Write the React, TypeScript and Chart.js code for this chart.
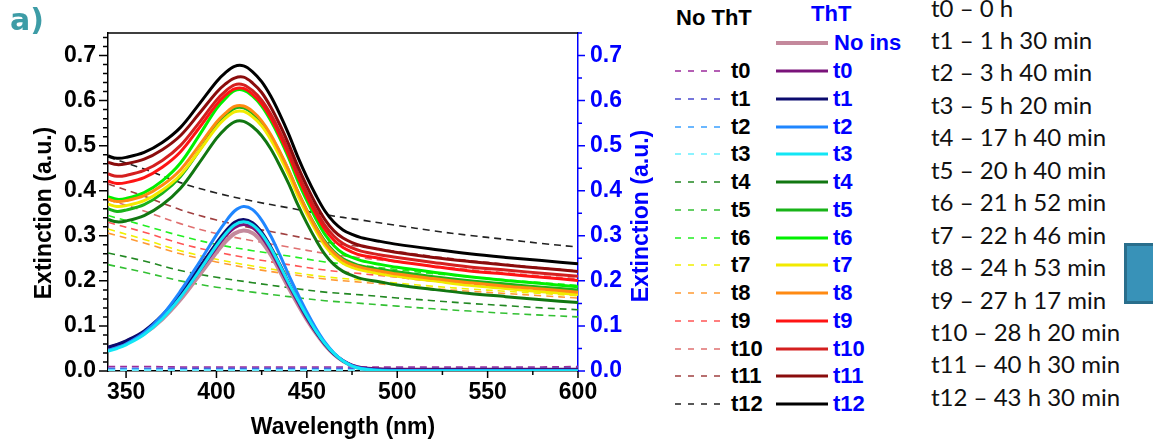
import React, { useEffect, useRef } from 'react';
import { Chart, registerables } from 'chart.js';

Chart.register(...registerables);

// ---------------- DATA ----------------
const wlSolid = [340, 345, 350, 360, 370, 380, 390, 400, 405, 410, 415, 420, 425, 430, 435, 440, 445, 450, 455, 460, 465, 470, 475, 480, 490, 500, 520, 540, 560, 580, 600];
const wlDashed = [340, 360, 380, 400, 420, 440, 460, 480, 500, 520, 540, 560, 580, 600];

// ThT (solid lines)
const thtNoIns = [0.048, 0.054, 0.062, 0.083, 0.115, 0.158, 0.210, 0.263, 0.287, 0.305, 0.312, 0.306, 0.287, 0.258, 0.222, 0.184, 0.148, 0.114, 0.084, 0.058, 0.037, 0.022, 0.012, 0.006, 0.003, 0.002, 0.002, 0.002, 0.002, 0.002, 0.002];
const thtT0 = [0.052, 0.058, 0.066, 0.087, 0.120, 0.165, 0.219, 0.274, 0.299, 0.318, 0.325, 0.318, 0.298, 0.267, 0.229, 0.190, 0.153, 0.117, 0.086, 0.059, 0.038, 0.023, 0.013, 0.008, 0.005, 0.004, 0.004, 0.004, 0.004, 0.004, 0.004];
const thtT1 = [0.053, 0.059, 0.067, 0.089, 0.124, 0.171, 0.227, 0.284, 0.310, 0.330, 0.336, 0.329, 0.308, 0.276, 0.237, 0.196, 0.158, 0.121, 0.088, 0.060, 0.038, 0.022, 0.012, 0.006, 0.003, 0.002, 0.002, 0.002, 0.002, 0.002, 0.002];
const thtT2 = [0.046, 0.052, 0.060, 0.085, 0.124, 0.177, 0.238, 0.302, 0.331, 0.355, 0.365, 0.358, 0.335, 0.300, 0.258, 0.213, 0.171, 0.131, 0.095, 0.064, 0.040, 0.023, 0.012, 0.006, 0.002, 0.001, 0.001, 0.001, 0.001, 0.001, 0.001];
const thtT3 = [0.044, 0.050, 0.058, 0.081, 0.116, 0.163, 0.219, 0.278, 0.304, 0.324, 0.331, 0.324, 0.304, 0.273, 0.235, 0.195, 0.158, 0.122, 0.089, 0.061, 0.039, 0.022, 0.011, 0.005, 0.001, 0.000, 0.000, 0.000, 0.000, 0.000, 0.000];
const thtT4 = [0.336, 0.331, 0.333, 0.345, 0.369, 0.405, 0.459, 0.516, 0.538, 0.553, 0.554, 0.542, 0.522, 0.493, 0.456, 0.415, 0.369, 0.328, 0.291, 0.259, 0.236, 0.221, 0.212, 0.205, 0.198, 0.191, 0.181, 0.172, 0.165, 0.158, 0.152];
const thtT5 = [0.360, 0.354, 0.357, 0.369, 0.394, 0.431, 0.486, 0.545, 0.567, 0.583, 0.584, 0.572, 0.552, 0.522, 0.485, 0.444, 0.398, 0.357, 0.320, 0.288, 0.265, 0.249, 0.240, 0.233, 0.226, 0.220, 0.209, 0.200, 0.193, 0.186, 0.180];
const thtT6 = [0.387, 0.381, 0.383, 0.396, 0.422, 0.461, 0.520, 0.582, 0.605, 0.622, 0.623, 0.610, 0.588, 0.556, 0.517, 0.472, 0.422, 0.378, 0.338, 0.303, 0.278, 0.261, 0.252, 0.245, 0.237, 0.230, 0.219, 0.209, 0.201, 0.194, 0.187];
const thtT7 = [0.370, 0.365, 0.367, 0.378, 0.401, 0.435, 0.486, 0.540, 0.561, 0.575, 0.576, 0.564, 0.544, 0.514, 0.477, 0.435, 0.389, 0.348, 0.311, 0.278, 0.255, 0.239, 0.230, 0.224, 0.216, 0.210, 0.200, 0.190, 0.183, 0.176, 0.170];
const thtT8 = [0.381, 0.376, 0.378, 0.389, 0.412, 0.446, 0.498, 0.552, 0.572, 0.587, 0.588, 0.576, 0.555, 0.525, 0.487, 0.445, 0.398, 0.356, 0.318, 0.285, 0.262, 0.246, 0.236, 0.230, 0.222, 0.215, 0.205, 0.196, 0.188, 0.182, 0.175];
const thtT9 = [0.421, 0.416, 0.418, 0.429, 0.452, 0.486, 0.537, 0.591, 0.612, 0.626, 0.627, 0.614, 0.593, 0.562, 0.523, 0.479, 0.431, 0.387, 0.348, 0.314, 0.290, 0.274, 0.264, 0.257, 0.250, 0.243, 0.232, 0.222, 0.215, 0.208, 0.201];
const thtT10 = [0.437, 0.432, 0.434, 0.445, 0.467, 0.500, 0.549, 0.601, 0.621, 0.635, 0.635, 0.622, 0.601, 0.570, 0.531, 0.488, 0.439, 0.396, 0.357, 0.323, 0.299, 0.283, 0.273, 0.266, 0.258, 0.252, 0.241, 0.231, 0.224, 0.217, 0.210];
const thtT11 = [0.463, 0.458, 0.460, 0.470, 0.491, 0.522, 0.569, 0.618, 0.637, 0.650, 0.652, 0.639, 0.618, 0.586, 0.547, 0.503, 0.454, 0.410, 0.370, 0.336, 0.311, 0.295, 0.285, 0.278, 0.270, 0.263, 0.252, 0.243, 0.235, 0.228, 0.221];
const thtT12 = [0.477, 0.472, 0.474, 0.485, 0.507, 0.540, 0.590, 0.642, 0.662, 0.676, 0.677, 0.664, 0.642, 0.610, 0.570, 0.525, 0.475, 0.430, 0.390, 0.355, 0.330, 0.313, 0.303, 0.296, 0.288, 0.281, 0.270, 0.260, 0.252, 0.245, 0.238];

// No ThT (dashed lines)
const noThtT0 = [0.010, 0.010, 0.009, 0.009, 0.009, 0.009, 0.009, 0.009, 0.009, 0.009, 0.009, 0.009, 0.009, 0.010];
const noThtT1 = [0.006, 0.006, 0.006, 0.006, 0.006, 0.006, 0.006, 0.006, 0.006, 0.006, 0.006, 0.006, 0.006, 0.007];
const noThtT2 = [0.004, 0.004, 0.003, 0.003, 0.003, 0.003, 0.003, 0.003, 0.003, 0.003, 0.003, 0.003, 0.003, 0.003];
const noThtT3 = [0.002, 0.002, 0.002, 0.002, 0.002, 0.002, 0.002, 0.002, 0.002, 0.002, 0.002, 0.002, 0.002, 0.002];
const noThtT4 = [0.262, 0.244, 0.223, 0.208, 0.196, 0.185, 0.175, 0.169, 0.162, 0.156, 0.150, 0.145, 0.140, 0.136];
const noThtT5 = [0.236, 0.219, 0.200, 0.186, 0.175, 0.165, 0.156, 0.150, 0.144, 0.138, 0.133, 0.128, 0.124, 0.120];
const noThtT6 = [0.345, 0.323, 0.300, 0.281, 0.267, 0.255, 0.242, 0.234, 0.225, 0.216, 0.209, 0.202, 0.196, 0.190];
const noThtT7 = [0.315, 0.292, 0.267, 0.248, 0.233, 0.220, 0.209, 0.202, 0.195, 0.188, 0.182, 0.177, 0.172, 0.167];
const noThtT8 = [0.306, 0.284, 0.260, 0.242, 0.227, 0.215, 0.204, 0.197, 0.190, 0.183, 0.177, 0.172, 0.167, 0.162];
const noThtT9 = [0.330, 0.308, 0.283, 0.264, 0.249, 0.236, 0.224, 0.216, 0.208, 0.199, 0.193, 0.187, 0.180, 0.175];
const noThtT10 = [0.380, 0.355, 0.327, 0.305, 0.289, 0.275, 0.261, 0.251, 0.242, 0.233, 0.225, 0.218, 0.211, 0.205];
const noThtT11 = [0.415, 0.388, 0.358, 0.335, 0.317, 0.302, 0.286, 0.276, 0.265, 0.254, 0.245, 0.237, 0.229, 0.222];
const noThtT12 = [0.475, 0.448, 0.418, 0.395, 0.377, 0.362, 0.347, 0.335, 0.323, 0.311, 0.301, 0.292, 0.283, 0.275];

const thtLabels = ['No ins', 't0', 't1', 't2', 't3', 't4', 't5', 't6', 't7', 't8', 't9', 't10', 't11', 't12'];
const noThtLabels = ['t0', 't1', 't2', 't3', 't4', 't5', 't6', 't7', 't8', 't9', 't10', 't11', 't12'];
const timeLabels = [
  't0 – 0 h', 't1 – 1 h 30 min', 't2 – 3 h 40 min', 't3 – 5 h 20 min', 't4 – 17 h 40 min',
  't5 – 20 h 40 min', 't6 – 21 h 52 min', 't7 – 22 h 46 min', 't8 – 24 h 53 min', 't9 – 27 h 17 min',
  't10 – 28 h 20 min', 't11 – 40 h 30 min', 't12 – 43 h 30 min',
];

const xTicks = [350, 400, 450, 500, 550, 600];
const xMinorTicks = [375, 425, 475, 525, 575];
const yTicks = [0, 0.1, 0.2, 0.3, 0.4, 0.5, 0.6, 0.7];
const yLeftMinor = [0.02, 0.04, 0.06, 0.08, 0.12, 0.14, 0.16, 0.18, 0.22, 0.24, 0.26, 0.28, 0.32, 0.34, 0.36, 0.38, 0.42, 0.44, 0.46, 0.48, 0.52, 0.54, 0.56, 0.58, 0.62, 0.64, 0.66, 0.68, 0.72, 0.74];
const yRightMinor = [0.05, 0.15, 0.25, 0.35, 0.45, 0.55, 0.65, 0.75];

const thtSeries = [thtNoIns, thtT0, thtT1, thtT2, thtT3, thtT4, thtT5, thtT6, thtT7, thtT8, thtT9, thtT10, thtT11, thtT12];
const noThtSeries = [noThtT0, noThtT1, noThtT2, noThtT3, noThtT4, noThtT5, noThtT6, noThtT7, noThtT8, noThtT9, noThtT10, noThtT11, noThtT12];

const thtColors = ['#c4899c', '#7a137a', '#0b0b6e', '#1f86ff', '#12e6f5', '#117711', '#19b319', '#00f000', '#f2ea00', '#ff8a12', '#ff1414', '#d41f1f', '#8a0c0c', '#000000'];
const noThtColors = ['#9c2a9c', '#4a4ad0', '#3aa0ff', '#66f0ff', '#228822', '#33c033', '#22ee22', '#f0f000', '#ff9a33', '#ff5555', '#e07070', '#a04040', '#222222'];

// ---------------- STYLE ----------------
const FONT = "'Liberation Sans', Arial, sans-serif";
const BLUE = '#0000ff';
const CANVAS_W = 665;
const CANVAS_H = 442;

const frameAndTicks = {
  id: 'frameAndTicks',
  afterDraw(chart: any) {
    const { ctx, chartArea } = chart;
    const { left, right, top, bottom } = chartArea;
    const xs = chart.scales.x;
    const yl = chart.scales.y;
    const yr = chart.scales.y2;
    ctx.save();
    ctx.lineWidth = 1.5;
    ctx.strokeStyle = '#000';
    ctx.beginPath();
    ctx.moveTo(left, top);
    ctx.lineTo(right, top);
    yTicks.forEach((v) => {
      const p = yl.getPixelForValue(v);
      ctx.moveTo(left - 9, p);
      ctx.lineTo(left, p);
    });
    yLeftMinor.forEach((v) => {
      const p = yl.getPixelForValue(v);
      ctx.moveTo(left - 5, p);
      ctx.lineTo(left, p);
    });
    xTicks.forEach((v) => {
      const p = xs.getPixelForValue(v);
      ctx.moveTo(p, bottom);
      ctx.lineTo(p, bottom + 7);
    });
    xMinorTicks.forEach((v) => {
      const p = xs.getPixelForValue(v);
      ctx.moveTo(p, bottom);
      ctx.lineTo(p, bottom + 4);
    });
    ctx.stroke();

    ctx.strokeStyle = BLUE;
    ctx.beginPath();
    yTicks.forEach((v) => {
      const p = yr.getPixelForValue(v);
      ctx.moveTo(right, p);
      ctx.lineTo(right + 7, p);
    });
    yRightMinor.forEach((v) => {
      const p = yr.getPixelForValue(v);
      ctx.moveTo(right, p);
      ctx.lineTo(right + 4, p);
    });
    ctx.stroke();

    // vertical axis titles (both read bottom-to-top)
    const midY = (top + bottom) / 2 + 11;
    ctx.font = `bold 23px ${FONT}`;
    ctx.textAlign = 'center';
    ctx.textBaseline = 'middle';
    ctx.fillStyle = '#000';
    ctx.save();
    ctx.translate(45, midY);
    ctx.rotate(-Math.PI / 2);
    ctx.fillText('Extinction (a.u.)', 0, 0);
    ctx.restore();
    ctx.fillStyle = BLUE;
    ctx.save();
    ctx.translate(642, midY + 3);
    ctx.rotate(-Math.PI / 2);
    ctx.fillText('Extinction (a.u.)', 0, 0);
    ctx.restore();
    ctx.restore();
  },
};

function ChartCanvas() {
  const ref = useRef<HTMLCanvasElement>(null);
  useEffect(() => {
    if (!ref.current) return;
    const datasets: any[] = [
      ...noThtSeries.map((vals, i) => ({
        label: 'No ThT ' + noThtLabels[i],
        data: wlDashed.map((x, j) => ({ x, y: vals[j] })),
        borderColor: noThtColors[i],
        borderWidth: 1.6,
        borderDash: [7, 5],
        pointRadius: 0,
        fill: false,
        tension: 0.35,
        order: 100 - i,
      })),
      ...thtSeries.map((vals, i) => ({
        label: 'ThT ' + thtLabels[i],
        data: wlSolid.map((x, j) => ({ x, y: vals[j] })),
        borderColor: thtColors[i],
        borderWidth: i === 0 ? 4 : 3,
        pointRadius: 0,
        fill: false,
        tension: 0.35,
        order: 50 - i,
      })),
    ];
    const tickFont = { family: FONT, size: 23, weight: 'bold' as const };
    const chart = new Chart(ref.current, {
      type: 'line',
      data: { datasets },
      plugins: [frameAndTicks],
      options: {
        animation: false,
        responsive: false,
        devicePixelRatio: 1,
        layout: { padding: { top: 33, left: 0, right: 0, bottom: 0 } },
        plugins: { legend: { display: false }, tooltip: { enabled: false } },
        scales: {
          x: {
            type: 'linear',
            min: 340,
            max: 600,
            afterBuildTicks: (s: any) => { s.ticks = xTicks.map((v) => ({ value: v })); },
            afterFit: (s: any) => { s.height = 71; },
            grid: { display: false, drawTicks: false },
            border: { display: true, color: '#000', width: 1.5 },
            ticks: { color: '#000', font: tickFont, padding: 8, maxRotation: 0, autoSkip: false, callback: (v: any) => String(v) },
            title: { display: true, text: 'Wavelength (nm)', color: '#000', font: tickFont, padding: { top: 0, bottom: 1 } },
          },
          y: {
            type: 'linear',
            position: 'left',
            min: 0,
            max: 0.75,
            afterBuildTicks: (s: any) => { s.ticks = yTicks.map((v) => ({ value: v })); },
            afterFit: (s: any) => { s.width = 108; },
            grid: { display: false, drawTicks: false },
            border: { display: true, color: '#000', width: 1.5 },
            ticks: { color: '#000', font: tickFont, padding: 12, callback: (v: any) => Number(v).toFixed(1) },
          },
          y2: {
            type: 'linear',
            position: 'right',
            min: 0,
            max: 0.75,
            afterBuildTicks: (s: any) => { s.ticks = yTicks.map((v) => ({ value: v })); },
            afterFit: (s: any) => { s.width = CANVAS_W - 578; },
            grid: { display: false, drawTicks: false },
            border: { display: true, color: BLUE, width: 1.5 },
            ticks: { color: BLUE, font: tickFont, padding: 12, callback: (v: any) => Number(v).toFixed(1) },
          },
        },
      } as any,
    });
    return () => chart.destroy();
  }, []);
  return (
    <canvas ref={ref} width={CANVAS_W} height={CANVAS_H} style={{ display: 'block', width: CANVAS_W, height: CANVAS_H }} />
  );
}

const LEG_ROW0 = 71;
const LEG_STEP = 27.77;
const TIME_ROW0 = 7.5;
const TIME_STEP = 32.45;

function TextAt({ x, y, children, style }: any) {
  return (
    <div style={{ position: 'absolute', left: x, top: y - 15, height: 30, lineHeight: '30px', whiteSpace: 'nowrap', ...style }}>
      {children}
    </div>
  );
}

function LineSample({ x, y, w, color, width, dash }: any) {
  return (
    <svg style={{ position: 'absolute', left: x, top: y - 4 }} width={w} height={8}>
      <line x1={0} y1={4} x2={w} y2={4} stroke={color} strokeWidth={width} strokeDasharray={dash} />
    </svg>
  );
}

export default function App() {
  const legFont = { fontFamily: FONT, fontWeight: 'bold', fontSize: 22 };
  return (
    <div style={{ position: 'absolute', left: 0, top: 0, width: 1153, height: 442, background: '#fff', overflow: 'hidden' }}>
      <div style={{ position: 'absolute', left: 0, top: 0 }}>
        <ChartCanvas />
      </div>
      <div style={{ position: 'absolute', left: 10, top: 0, fontFamily: "'DejaVu Sans', sans-serif", fontWeight: 'bold', fontSize: 30, lineHeight: '40px', color: '#3d9ca6' }}>a)</div>

      {/* legend headers */}
      <TextAt x={676} y={18} style={{ ...legFont, color: '#000' }}>No ThT</TextAt>
      <TextAt x={811} y={14} style={{ ...legFont, color: BLUE }}>ThT</TextAt>

      {/* ThT "No ins" row */}
      <LineSample x={776} y={43.3} w={52} color={thtColors[0]} width={4} />
      <TextAt x={834} y={43.3} style={{ ...legFont, color: BLUE }}>{thtLabels[0]}</TextAt>

      {noThtLabels.map((lab, i) => {
        const y = LEG_ROW0 + i * LEG_STEP;
        return (
          <React.Fragment key={lab}>
            <LineSample x={675} y={y} w={46} color={noThtColors[i]} width={1.6} dash="6 7" />
            <TextAt x={731} y={y} style={{ ...legFont, color: '#000' }}>{lab}</TextAt>
            <LineSample x={776} y={y} w={52} color={thtColors[i + 1]} width={3} />
            <TextAt x={833} y={y} style={{ ...legFont, color: BLUE }}>{thtLabels[i + 1]}</TextAt>
          </React.Fragment>
        );
      })}

      {timeLabels.map((t, i) => (
        <TextAt key={t} x={931} y={TIME_ROW0 + i * TIME_STEP} style={{ fontFamily: "Lato, 'Open Sans', sans-serif", fontSize: 24, color: '#111' }}>{t}</TextAt>
      ))}

      <div style={{ position: 'absolute', left: 1124, top: 243, width: 40, height: 61, boxSizing: 'border-box', background: '#3892b8', border: '3px solid #296e8c' }} />
    </div>
  );
}
